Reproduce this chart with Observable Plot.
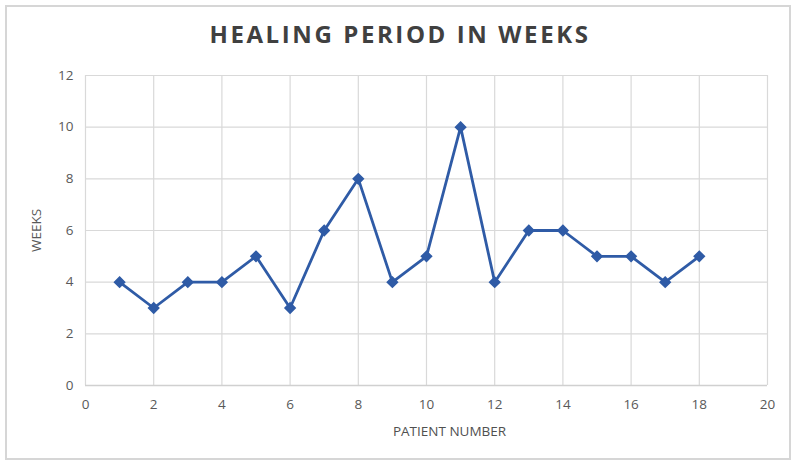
<!DOCTYPE html>
<html>
<head>
<meta charset="utf-8">
<script src="https://cdn.jsdelivr.net/npm/d3@7"></script>
<script src="https://cdn.jsdelivr.net/npm/@observablehq/plot@0.6"></script>
<style>
  html, body { margin: 0; padding: 0; background: #fff; }
  #wrap { position: relative; width: 800px; height: 470px; overflow: hidden; }
  #frame { position: absolute; left: 5px; top: 5px; width: 786px; height: 455px; border: 2px solid #d6d6d6; box-sizing: border-box; }
  #title { position: absolute; left: 0; top: 17px; width: 800px; text-align: center;
    font-family: "Open Sans", sans-serif; font-weight: 700; font-size: 24px; letter-spacing: 2.6px; color: #404040; }
  #chart { position: absolute; left: 0; top: 60px; }
</style>
</head>
<body>
<div id="wrap">
  <div id="frame"></div>
  <div id="title">HEALING PERIOD IN WEEKS</div>
  <div id="chart"></div>
</div>
<script>
const patients = [1, 2, 3, 4, 5, 6, 7, 8, 9, 10, 11, 12, 13, 14, 15, 16, 17, 18];
const weeks = [4, 3, 4, 4, 5, 3, 6, 8, 4, 5, 10, 4, 6, 6, 5, 5, 4, 5];
const xTicks = [0, 2, 4, 6, 8, 10, 12, 14, 16, 18, 20];
const yTicks = [0, 2, 4, 6, 8, 10, 12];
const xLabel = "PATIENT NUMBER";
const yLabel = "WEEKS";

const data = patients.map((p, i) => ({patient: p, weeks: weeks[i]}));
const blue = "#2f5ba6";

const plot = Plot.plot({
  width: 800,
  height: 410,
  marginTop: 15,
  marginBottom: 85,
  marginLeft: 85,
  marginRight: 33,
  style: {fontFamily: "'Open Sans', sans-serif", fontSize: "13px", color: "#595959", background: "transparent"},
  x: {domain: [0, 20], ticks: xTicks, label: null, tickSize: 0, tickPadding: 12},
  y: {domain: [0, 12], ticks: yTicks, label: yLabel, labelAnchor: "center", labelArrow: "none", labelOffset: 54, tickSize: 0, tickPadding: 12},
  marks: [
    Plot.gridX(xTicks, {stroke: "#d9d9d9", strokeOpacity: 1, strokeWidth: 1.2}),
    Plot.gridY(yTicks, {stroke: "#d9d9d9", strokeOpacity: 1, strokeWidth: 1.2}),
    Plot.ruleY([0], {stroke: "#d0d0d0", strokeWidth: 1.5}),
    Plot.axisX(xTicks, {tickSize: 0, tickPadding: 14, fontSize: 13.5, fill: "#595959", label: null}),
    Plot.axisY(yTicks, {tickSize: 0, tickPadding: 12, fontSize: 13.5, fill: "#595959", label: yLabel, labelAnchor: "center", labelArrow: "none", labelOffset: 54}),
    Plot.line(data, {x: "patient", y: "weeks", stroke: blue, strokeWidth: 2.8}),
    Plot.dot(data, {x: "patient", y: "weeks", symbol: "diamond2", r: 4.6, fill: blue, stroke: blue}),
    Plot.text([xLabel], {frameAnchor: "bottom", dx: 23, dy: 50, fontSize: 13.5, fill: "#505050"})
  ]
});
document.getElementById("chart").appendChild(plot);
</script>
</body>
</html>
